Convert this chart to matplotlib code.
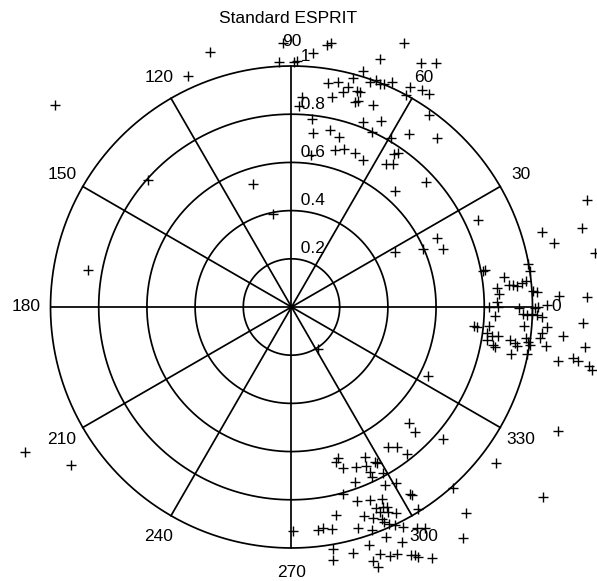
import numpy as np
import matplotlib
matplotlib.use("Agg")
import matplotlib.pyplot as plt

plt.rcParams['font.family'] = ['Liberation Sans', 'DejaVu Sans']

re_top = [-0.034, 0.088, 0.149, 0.164, 0.467, -0.051, 0.010, 0.024, 0.367, 0.536,
          0.598, 0.298, 0.153, 0.194, 0.254, 0.215, 0.236, 0.273, 0.284, 0.326,
          0.351, 0.367, 0.384, 0.416, 0.492, 0.475, 0.540, 0.572, 0.042, 0.032,
          0.167, 0.263, 0.277, 0.339, 0.572, 0.084, 0.298, 0.370, 0.088, 0.160,
          0.198, 0.333, 0.412, 0.489, 0.604, 0.080, 0.180, 0.218, 0.263, 0.295,
          0.425, 0.442, 0.394, 0.420, 0.429, 0.560, 0.775, 0.602, 0.629, 0.544,
          0.429, -0.159, -0.078, -0.338, -0.428, -0.981, -0.594, -0.843, -1.106, -0.916,
          0.005, 0.111, 0.568]
im_top = [1.097, 1.053, 1.087, 1.097, 1.094, 1.015, 1.018, 1.022, 1.028, 1.011,
          1.014, 0.981, 0.931, 0.935, 0.949, 0.893, 0.912, 0.898, 0.893, 0.935,
          0.942, 0.925, 0.924, 0.932, 0.914, 0.880, 0.900, 0.884, 0.873, 0.834,
          0.873, 0.852, 0.856, 0.838, 0.797, 0.779, 0.769, 0.772, 0.721, 0.734,
          0.704, 0.727, 0.700, 0.718, 0.700, 0.631, 0.651, 0.654, 0.640, 0.608,
          0.633, 0.637, 0.595, 0.595, 0.483, 0.519, 0.359, 0.288, 0.240, 0.239,
          0.228, 0.510, 0.386, 1.059, 0.959, 0.838, 0.527, 0.154, -0.600, -0.656,
          -0.928, -0.176, -0.288]

re_right = [1.227, 1.038, 1.204, 1.090, 1.259, 0.983, 0.990, 0.803, 0.793, 0.882,
            0.904, 0.920, 0.937, 0.955, 0.973, 0.854, 0.862, 1.001, 1.017, 1.111,
            1.227, 0.851, 0.858, 0.821, 0.945, 1.010, 1.024, 1.059, 0.959, 0.976,
            0.997, 1.017, 1.038, 0.844, 0.965, 1.059, 0.757, 0.771, 0.821, 1.208,
            0.812, 0.831, 0.858, 1.038, 1.031, 1.128, 0.812, 0.837, 0.844, 0.907,
            0.927, 0.937, 0.973, 0.983, 0.990, 1.056, 1.218, 0.910, 0.976, 1.107,
            1.169, 1.190, 1.236, 1.246, 1.107, 0.630, 0.849, 0.671, 1.045, 0.724]
im_right = [0.444, 0.312, 0.327, 0.267, 0.225, 0.178, 0.151, 0.154, 0.151, 0.123,
            0.091, 0.091, 0.088, 0.098, 0.109, 0.078, 0.054, 0.068, 0.063, 0.046,
            0.040, 0.022, 0.001, 0.001, -0.005, -0.005, -0.001, 0.008, -0.029, -0.033,
            -0.029, -0.033, -0.040, -0.037, -0.079, -0.082, -0.079, -0.084, -0.079, -0.068,
            -0.107, -0.120, -0.119, -0.109, -0.130, -0.120, -0.137, -0.158, -0.165, -0.137,
            -0.151, -0.162, -0.130, -0.144, -0.158, -0.162, -0.167, -0.195, -0.195, -0.224,
            -0.213, -0.223, -0.245, -0.261, -0.513, -0.549, -0.649, -0.752, -0.790, -0.854]

re_bottom = [0.489, 0.512, 0.402, 0.439, 0.481, 0.194, 0.185, 0.212, 0.268, 0.305,
             0.309, 0.346, 0.356, 0.326, 0.333, 0.381, 0.263, 0.388, 0.434, 0.212,
             0.492, 0.499, 0.271, 0.326, 0.374, 0.381, 0.351, 0.395, 0.402, 0.367,
             0.434, 0.526, 0.185, 0.301, 0.339, 0.374, 0.384, 0.406, 0.429, 0.464,
             0.111, 0.132, 0.167, 0.277, 0.333, 0.520, 0.554, 0.392, 0.457, 0.710,
             0.323, 0.171, 0.173, 0.254, 0.367, 0.409, 0.437, 0.337, 0.495, 0.512,
             0.526, 0.582, 0.360]
im_bottom = [-0.480, -0.517, -0.580, -0.582, -0.610, -0.628, -0.642, -0.669, -0.665, -0.624,
             -0.660, -0.642, -0.646, -0.683, -0.704, -0.688, -0.725, -0.739, -0.732, -0.776,
             -0.776, -0.780, -0.804, -0.801, -0.798, -0.829, -0.835, -0.829, -0.849, -0.849,
             -0.854, -0.839, -0.863, -0.867, -0.877, -0.881, -0.891, -0.900, -0.905, -0.912,
             -0.925, -0.918, -0.922, -0.918, -0.925, -0.918, -0.918, -0.956, -0.974, -0.960,
             -0.988, -1.005, -1.050, -1.020, -1.025, -1.033, -1.025, -1.053, -1.029, -1.029,
             -1.036, -1.043, -1.078]

rings = [0.2, 0.4, 0.6, 0.8, 1.0]
ring_labels = ['0.2', '0.4', '0.6', '0.8', '1']
spoke_angles = np.arange(0, 180, 30)
angle_labels = np.arange(0, 360, 30)

fig = plt.figure(figsize=(5.97, 5.81), dpi=100)
ax = fig.add_axes([0, 0, 1, 1])
ax.set_xlim(-1.2095, 1.2676)
ax.set_ylim(-1.137, 1.2739)
ax.set_aspect('equal')
ax.axis('off')

# polar grid drawn by hand, MATLAB style
t = np.linspace(0, 2 * np.pi, 400)
for r in rings:
    ax.plot(r * np.cos(t), r * np.sin(t), color='k', lw=1.25)
for a in np.deg2rad(spoke_angles):
    ax.plot([-np.cos(a), np.cos(a)], [-np.sin(a), np.sin(a)], color='k', lw=1.25)

for r, lab in zip(rings, ring_labels):
    ax.text(0, r + 0.01, '  ' + lab, ha='left', va='bottom', fontsize=12.5)
for a in angle_labels:
    ar = np.deg2rad(a)
    ax.text(1.1 * np.cos(ar), 1.1 * np.sin(ar), str(a),
            ha='center', va='center', fontsize=12.5)

z = np.array(re_top + re_right + re_bottom) + 1j * np.array(im_top + im_right + im_bottom)
ax.plot(z.real, z.imag, 'k+', ms=6.5, mew=1.0, clip_on=False)

ax.text(-0.015, 1.197, 'Standard ESPRIT', ha='center', va='center', fontsize=12.5)

fig.savefig('out.png', dpi=100)
